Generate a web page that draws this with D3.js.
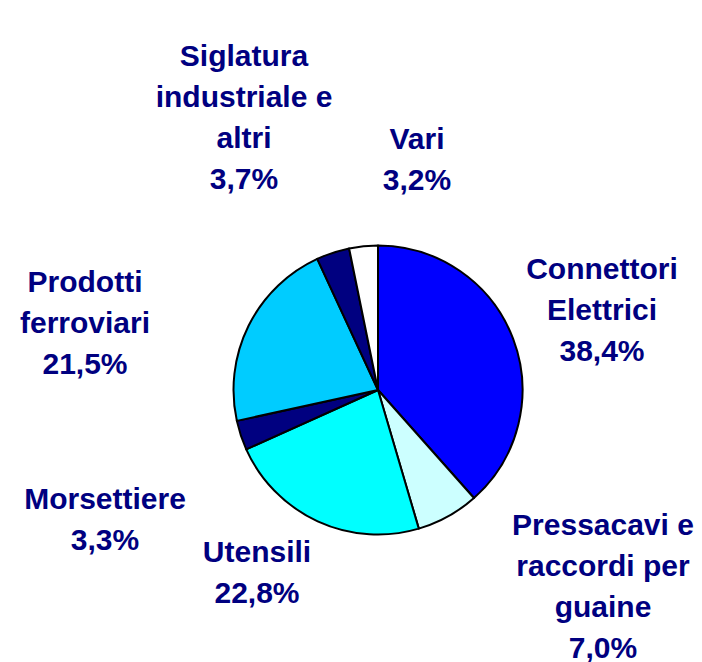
<!DOCTYPE html>
<html>
<head>
<meta charset="utf-8">
<script src="https://cdn.jsdelivr.net/npm/d3@7"></script>
<style>
  body { margin: 0; background: #fff; }
  .lbl { font-family: "Liberation Sans", Arial, sans-serif; font-weight: bold; font-size: 30px; fill: #000080; }
</style>
</head>
<body>
<div id="chart"></div>
<script>
// data, clockwise from 12 o'clock
var categories = ["Connettori Elettrici", "Pressacavi e raccordi per guaine", "Utensili",
                  "Morsettiere", "Prodotti ferroviari", "Siglatura industriale e altri", "Vari"];
var values = [38.4, 7.0, 22.8, 3.3, 21.5, 3.7, 3.2];
var valueLabels = ["38,4%", "7,0%", "22,8%", "3,3%", "21,5%", "3,7%", "3,2%"];
// label lines as shown in the picture
var labelLines = [
  ["Connettori", "Elettrici"],
  ["Pressacavi e", "raccordi per", "guaine"],
  ["Utensili"],
  ["Morsettiere"],
  ["Prodotti", "ferroviari"],
  ["Siglatura", "industriale e", "altri"],
  ["Vari"]
];
var colors = ["#0000FF", "#CCFFFF", "#00FFFF", "#000080", "#00CCFF", "#000080", "#FFFFFF"];

// layout
var width = 702, height = 662;
var cx = 378, cy = 390, radius = 144.5;
var lineH = 41;
// top line centre of each label block
var labelPos = [[602, 268], [603, 524], [257, 551], [105, 498], [85, 281], [244, 55], [417, 138]];

var svg = d3.select("#chart").append("svg")
  .attr("width", width)
  .attr("height", height);

var pie = d3.pie().sort(null).value(function(d) { return d; });
var arc = d3.arc().innerRadius(0).outerRadius(radius);

var g = svg.append("g").attr("transform", "translate(" + cx + "," + cy + ")");

g.selectAll("path")
  .data(pie(values))
  .enter().append("path")
  .attr("d", arc)
  .attr("fill", function(d, i) { return colors[i]; })
  .attr("stroke", "#000")
  .attr("stroke-width", 2)
  .attr("stroke-linejoin", "round");

// labels
categories.forEach(function(c, i) {
  var lines = labelLines[i].concat([valueLabels[i]]);
  var t = svg.append("text")
    .attr("class", "lbl")
    .attr("text-anchor", "middle");
  lines.forEach(function(l, j) {
    t.append("tspan")
      .attr("x", labelPos[i][0])
      .attr("y", labelPos[i][1] + 11 + j * lineH)
      .text(l);
  });
});
</script>
</body>
</html>
